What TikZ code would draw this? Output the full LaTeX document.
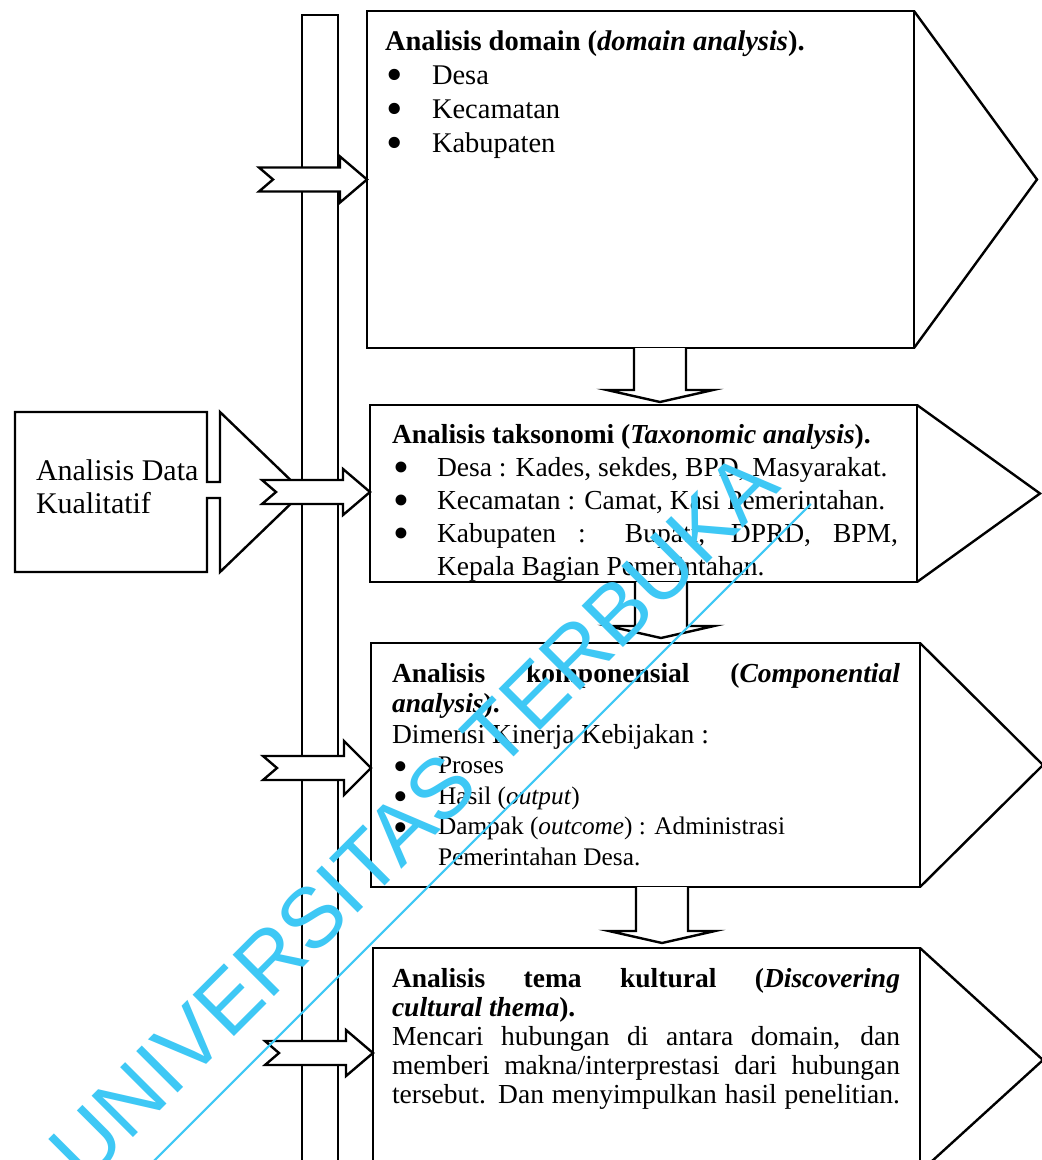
\documentclass[tikz,border=0pt]{standalone}
\usepackage{fontspec}
\usepackage{graphicx}
\setmainfont{Liberation Serif}
\newfontfamily\wmfont{Liberation Sans}
\usetikzlibrary{calc}
\definecolor{wmblue}{RGB}{62,200,245}

% large list bullet and the bullet columns of the lists
\newcommand\bigdot{\raisebox{-6.5pt}{\scalebox{1.65}{\textbullet}}}
\newcommand\bulA{\hbox to 47pt{\kern1pt\bigdot\hfil}}
\newcommand\bulB{\hbox to 45pt{\kern1pt\bigdot\hfil}}
\newcommand\bulC{\hbox to 46pt{\kern1pt\bigdot\hfil}}

% flat-headed block arrow pointing down: #1 top of the shaft, #2 tip
\newcommand\blockdown[2]{%
  \draw[blockarrow] ($(#1)+(-26,0)$) -- ($(#2)+(-26,-12)$) -- ($(#2)+(-53,-12)$)
    -- (#2) -- ($(#2)+(53,-12)$) -- ($(#2)+(26,-12)$) -- ($(#1)+(26,0)$);}

% notched block arrow pointing right: #1 tip, #2 half height of the head
\newcommand\notchin[2]{%
  \draw[blockarrow] ($(#1)+(-108,-12)$) -- ($(#1)+(-27,-12)$) -- ($(#1)+(-27,-#2)$)
    -- (#1) -- ($(#1)+(-27,#2)$) -- ($(#1)+(-27,12)$) -- ($(#1)+(-108,12)$)
    -- ($(#1)+(-94,0)$) -- cycle;}

\begin{document}
\begin{tikzpicture}[x=1pt, y=-1pt, line join=miter,
  outline/.style={draw=black, line width=2.4pt},
  frame/.style={outline, fill=white, inner sep=0pt, outer sep=0pt, anchor=north west},
  blockarrow/.style={outline, fill=white},
  txt/.style={inner sep=0pt, outer sep=0pt, anchor=base west},
  bodyfont/.style={font={\fontsize{27.5}{33}\selectfont}}]
\useasboundingbox (0,0) rectangle (1042,1160);
\clip (0,0) rectangle (1042,1160);
\fill[white] (0,0) rectangle (1042,1160);

% vertical spine
\node[frame, minimum width=36pt, minimum height=1200pt] (spine) at (302,15) {};

% source box with its arrow head
\node[inner sep=0pt, outer sep=0pt, minimum width=192pt, minimum height=160pt,
      anchor=north west] (dk) at (15,412) {};
\draw[outline, fill=white] (dk.north west) -- (dk.north east) -- ([yshift=10pt]dk.east)
  -- ++(13,0) -- ++(0,-70) -- ++(83,80) -- ++(-83,80) -- ++(0,-74) -- ++(-13,0)
  -- (dk.south east) -- (dk.south west) -- cycle;
\node[txt, font={\fontsize{30}{33}\selectfont}] (dkt) at ([shift={(21,68)}]dk.north west)
  {\vtop{\baselineskip=33pt\hbox{Analisis Data}\hbox{Kualitatif}}};

% analysis stages
\node[frame, minimum width=547pt, minimum height=337pt] (b1) at (367,11) {};
\node[frame, minimum width=547pt, minimum height=177pt] (b2) at (370,405) {};
\node[frame, minimum width=549pt, minimum height=244pt] (b3) at (371,643) {};
\node[frame, minimum width=547pt, minimum height=224pt] (b4) at (373,948) {};
\foreach \b in {b1,b2,b3,b4}
  \draw[outline] (\b.north east) -- ([xshift=123pt]\b.east) -- (\b.south east);

% arrows from stage to stage
\coordinate (s1) at ($(b1.south west)+(293,0)$);
\coordinate (e1) at ($(b2.north west)+(290,-3)$);
\coordinate (s2) at ($(b2.south west)+(291,0)$);
\coordinate (e2) at ($(b3.north west)+(290,-5)$);
\coordinate (s3) at ($(b3.south west)+(291,0)$);
\coordinate (e3) at ($(b4.north west)+(289,-5)$);
\blockdown{s1}{e1}
\blockdown{s2}{e2}
\blockdown{s3}{e3}

% arrows from the spine into the stages
\coordinate (p1) at (b1.west);
\coordinate (p2) at ([yshift=1.5pt]b2.west);
\coordinate (p3) at ([yshift=-3pt]b3.west);
\coordinate (p4) at ([yshift=7pt]b4.west);
\notchin{p1}{23}
\notchin{p2}{23}
\notchin{p3}{27}
\notchin{p4}{23}

% stage texts
\node[txt, font={\fontsize{28.5}{34}\selectfont}] (t1) at ([shift={(18,39)}]b1.north west)
  {\vtop{\baselineskip=34pt
    \hbox{\bfseries Analisis domain (\textit{domain analysis}).}
    \hbox{\bulA Desa}
    \hbox{\bulA Kecamatan}
    \hbox{\bulA Kabupaten}}};

\node[txt, bodyfont] (t2) at ([shift={(22,38)}]b2.north west)
  {\vtop{\baselineskip=33pt
    \hbox{\bfseries Analisis taksonomi (\textit{Taxonomic analysis}).}
    \hbox{\bulB Desa : Kades, sekdes, BPD, Masyarakat.}
    \hbox{\bulB Kecamatan : Camat, Kasi Pemerintahan.}
    \hbox{\bulB\hbox to 461pt{Kabupaten : Bupati, DPRD, BPM,}}
    \hbox{\kern45pt Kepala Bagian Pemerintahan.}}};

\node[txt, bodyfont] (t3) at ([shift={(21,39)}]b3.north west)
  {\vtop{\baselineskip=30.5pt
    \hbox to 508pt{\bfseries Analisis komponensial (\textit{Componential}}
    \hbox{\bfseries\textit{analysis}).}
    \hbox{Dimensi Kinerja Kebijakan :}
    \hbox{\fontsize{25.3}{30}\selectfont\bulC Proses}
    \hbox{\fontsize{25.3}{30}\selectfont\bulC Hasil (\textit{output})}
    \hbox{\fontsize{25.3}{30}\selectfont\bulC Dampak (\textit{outcome}) : Administrasi}
    \hbox{\fontsize{25.3}{30}\selectfont\kern46pt Pemerintahan Desa.}}};

\node[txt, bodyfont] (t4) at ([shift={(19,39)}]b4.north west)
  {\vtop{\baselineskip=29pt
    \hbox to 508pt{\bfseries Analisis tema kultural (\textit{Discovering}}
    \hbox{\bfseries\textit{cultural thema}).}
    \hbox to 508pt{Mencari hubungan di antara domain, dan}
    \hbox to 508pt{memberi makna/interprestasi dari hubungan}
    \hbox to 508pt{tersebut. Dan menyimpulkan hasil penelitian.}}};

% watermark
\begin{scope}[shift={(434,837)}, rotate=45]
  \node[anchor=base, inner sep=0pt, transform shape, text=wmblue,
        font={\wmfont\fontsize{85}{85}\selectfont}] (wm) at (0,0) {UNIVERSITAS TERBUKA};
  \draw[wmblue, line width=2.2pt] (-560,31) -- (502,31);
\end{scope}
\end{tikzpicture}
\end{document}
